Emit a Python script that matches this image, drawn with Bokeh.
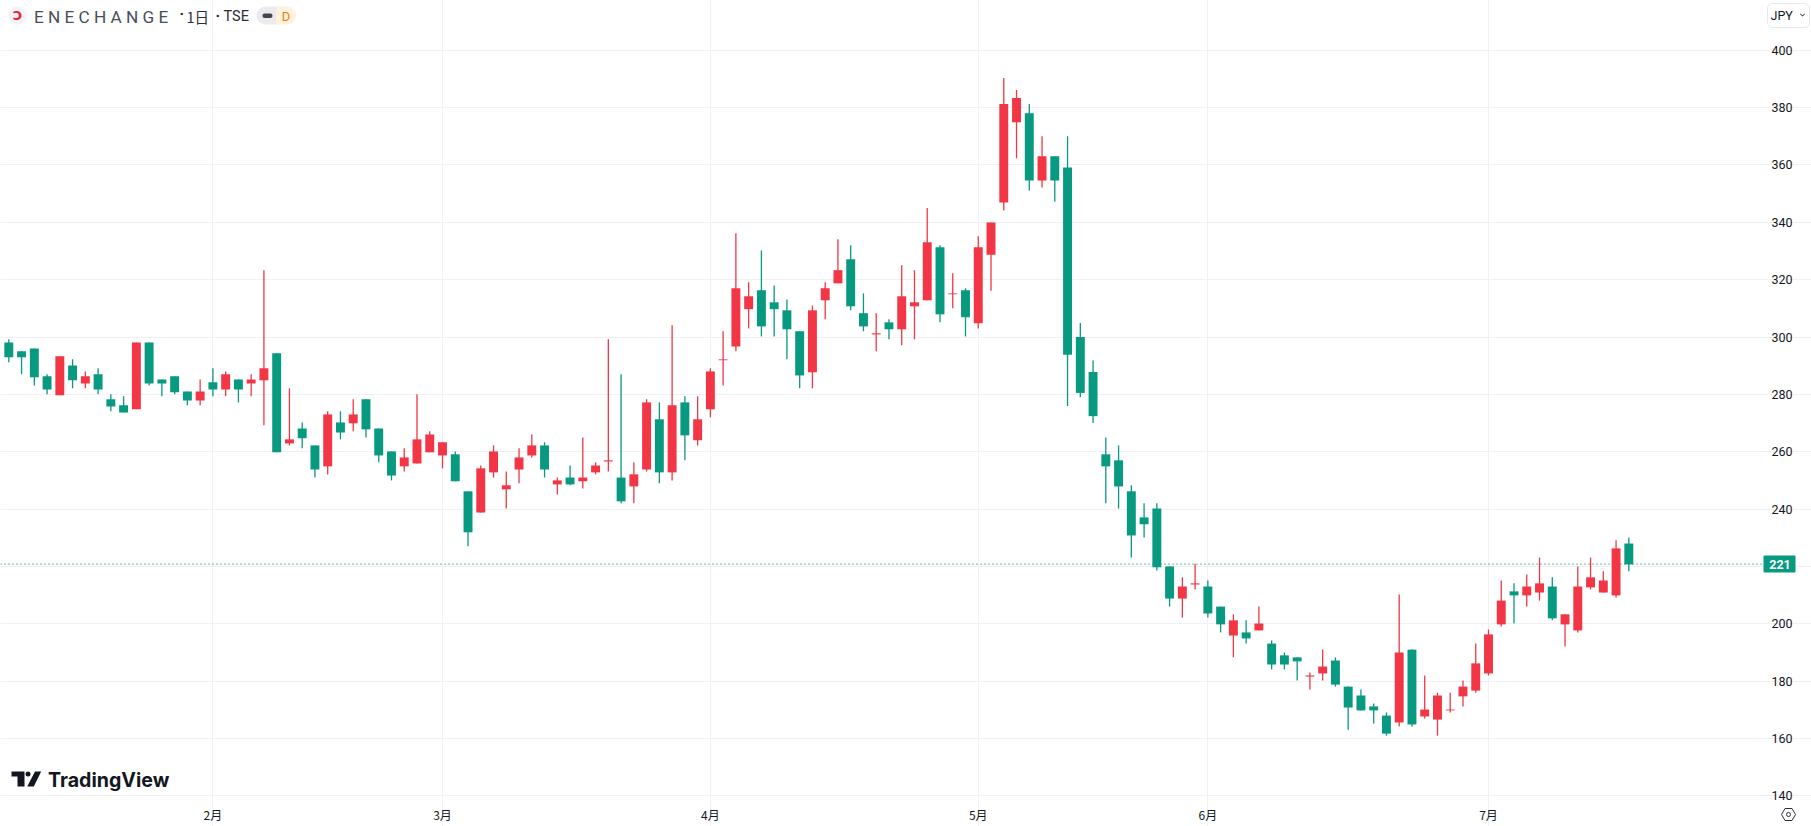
from bokeh.plotting import figure
from bokeh.models import (ColumnDataSource, FixedTicker, Label, BoxAnnotation, PolyAnnotation,
                          LinearAxis, Range1d)
from bokeh.embed import file_html
from bokeh.resources import INLINE

opens = [298.1,295,296,286.3,279.7,290.1,283.8,287,278.3,276.2,274.8,298.1,285.2,286.3,281,277.9,284.2,281.7,285.2,283.8,
         284.9,294.3,262.9,268.1,262.2,254.9,270.2,269.9,278.3,268.1,260.1,254.9,255.9,259.8,258.7,259.1,246.2,238.8,252.8,246.9,
         253.8,258.7,262.2,248.6,251,249.7,252.8,256.6,251,247.9,253.8,271.3,252.8,277.2,264,274.8,291.9,296.7,309.7,316.3,
         312.1,309.3,302,287.7,312.8,318.7,327.1,308.3,300.9,305.1,302.7,310.7,312.8,331.3,314.9,316.3,304.8,328.7,346.9,374.9,
         378,354.6,363,359.1,300,287.8,259.1,257,246.2,237.1,240.2,220,208.8,213.7,213,206,195.9,197,197.7,193.1,
         189,188.3,181.6,182.7,187.2,178.1,175,171.2,168,165.6,191,167.7,166.6,169.8,174.7,176.7,182.7,199.8,211.3,209.9,
         210.9,213,199.8,197.7,212.7,210.9,209.9,228]
highs = [299.2,295,296,287,293.3,292.2,288,289.1,280,279.3,298.1,298.1,285.2,286.3,281,285.2,289.1,288,285.2,287,
         323.3,294.3,282.1,270.2,262.2,274.1,274.1,278.3,278.3,268.1,260.1,261.2,280,267.1,263.3,260.1,246.2,255.2,262.2,253.1,
         261.2,266,263.3,251,255.2,265,256.3,299.2,287,256.3,278.3,277.2,304.1,279.3,279.3,289.1,302,336.2,319.1,330.2,
         318,313.1,302,311,319.1,334.1,332,315.2,308.3,306.2,325,323.3,345,332,322.2,317,335.1,339.9,390.3,386.1,
         381.2,370,363,370,304.9,291.8,265,262.2,248.3,242,242,220,216.2,220.9,215.1,206,203.3,201.2,206,194.2,
         190,188.3,183,191,188.3,178.1,177.1,172.2,169.1,210.2,191,182,176,176,180.2,193.1,198,215.1,214.1,217.2,
         223.1,216.2,203.3,220,223.1,218.3,229.1,230.1]
lows = [291.2,287,283.1,280,279.7,282.1,282.1,280,274.1,273.7,274.8,283.1,279.3,280,276.2,276.2,279.3,279.3,277.2,279.3,
        269.2,259.8,262.2,261.2,251,252.1,264.3,267.1,265,256.3,250,253.1,255.9,259.8,254.2,249.7,227,238.8,251,240.2,
        249,258,251,245.1,248.3,247.2,252.1,253.1,242,242,253.1,249,250,257,262.2,272,283.1,295,303,300.2,
        300.2,292.2,282.1,282.1,306.2,318.7,309.3,302,295,299.2,297.1,299.2,312.8,305.1,310,300.2,303,316.1,344.1,362.3,
        351.1,352.1,347.2,275.9,279,270,242,240.2,223.1,230.1,218.6,206,202.2,212,202.2,197,188.3,193.1,197.7,184.1,
        184.1,180.2,177.1,180.2,178.1,163.1,169.8,165.2,161,164.2,164.2,167,161,169.1,171.2,176,182,199.1,200.1,206,
        208.1,201.2,192.1,197,212,210.9,209.2,218.3]
closes = [292.9,292.9,286,281.7,293.3,284.9,286.3,281.7,275.8,273.7,298.1,283.8,283.8,280.7,277.9,281,281.7,287,281.7,285.2,
          289.1,259.8,264.3,264.7,253.8,273,266.7,273,267.8,258.7,251.7,258,264.3,266,263.3,249.7,231.9,254.2,260.1,248.3,
          258,262.2,253.8,250,248.6,251,255.2,257,242.7,252.1,277.2,252.8,276.2,265.7,271.3,288,292.2,317,314.2,303.7,
          309.7,302.7,286.6,309.3,317,323.3,310.7,303.7,301.3,302.7,314.2,312.1,333,307.9,315.2,306.9,331.3,339.9,381.2,383.3,
          354.6,363,354.6,293.8,280.5,272.4,254.9,247.9,230.8,234.7,219.7,208.8,213,214.1,203.6,199.8,201.2,194.9,200.1,185.8,
          185.8,186.9,182,185.1,178.8,170.8,169.8,169.8,161.7,190,164.9,170.1,175,170.1,178.1,186.2,196.3,208.1,209.9,213,
          214.1,201.9,203.3,213,216.2,215.1,226.3,220.7]

month_positions = [16, 34, 55, 76, 94, 116]
month_labels = ["2月", "3月", "4月", "5月", "6月", "7月"]
price_ticks = list(range(140, 401, 20))
last_price = 220.83
last_label = "221"

UP = "#F23645"
DOWN = "#089981"
GRID = "#f1f1f3"
TEXT = "#131722"
SANS = "Roboto"
CJK = "Noto Sans CJK JP"

idx = list(range(len(opens)))
colors = [UP if c >= o else DOWN for o, c in zip(opens, closes)]
src = ColumnDataSource(dict(x=idx, o=opens, h=highs, l=lows, c=closes,
                            top=[max(a, b) for a, b in zip(opens, closes)],
                            bot=[min(a, b) for a, b in zip(opens, closes)],
                            color=colors))

W, H = 1811, 826      # canvas
PW, PH = 1762, 796    # pane: right and bottom edges of the price/time area
SCALE = 2.868
STEP = 12.756
X0 = -8.3 / STEP
XE = (PW - 8.3) / STEP
YT = 400 + 49.7 / SCALE
YB = 400 - (PH - 49.7) / SCALE

p = figure(width=W, height=H, output_backend="svg", toolbar_location=None, tools="",
           x_range=Range1d(X0, (W - 8.3) / STEP),
           y_range=Range1d(400 - (H - 49.7) / SCALE, YT),
           x_axis_location=None, y_axis_location=None,
           min_border_left=0, min_border_top=0, min_border_right=0, min_border_bottom=0,
           background_fill_color="white", border_fill_color="white", outline_line_color=None)

yax = LinearAxis(ticker=FixedTicker(ticks=price_ticks), fixed_location=XE,
                 major_label_overrides={220: ""})
yax.axis_line_color = None
yax.major_tick_line_color = None
yax.minor_tick_line_color = None
yax.major_tick_out = 0
yax.major_tick_in = 0
yax.major_label_standoff = 9
yax.major_label_text_font = SANS
yax.major_label_text_font_size = "12.5px"
yax.major_label_text_color = TEXT
p.add_layout(yax, "right")

xax = LinearAxis(ticker=FixedTicker(ticks=month_positions), fixed_location=YB,
                 major_label_overrides={k: v for k, v in zip(month_positions, month_labels)})
xax.axis_line_color = None
xax.major_tick_line_color = GRID
xax.minor_tick_line_color = None
xax.major_tick_out = 4
xax.major_tick_in = 0
xax.major_label_standoff = 5
xax.major_label_text_font = CJK
xax.major_label_text_font_size = "12px"
xax.major_label_text_color = TEXT
p.add_layout(xax, "below")

p.xgrid.ticker = FixedTicker(ticks=month_positions)
p.ygrid.ticker = FixedTicker(ticks=price_ticks)
p.xgrid.grid_line_color = GRID
p.ygrid.grid_line_color = GRID
p.xgrid.grid_line_width = 1
p.ygrid.grid_line_width = 1
p.xgrid.bounds = (YB, YT)
p.ygrid.bounds = (X0, XE)

p.segment([X0], [last_price], [XE], [last_price], line_color=DOWN, line_width=1.3, line_dash="1 3")
p.segment("x", "h", "x", "l", source=src, line_color="color", line_width=1.3)
p.vbar("x", width=0.7, top="top", bottom="bot", source=src, fill_color="color", line_color=None)


def box(l, t, r, b, fill, radius=0, line=None, lw=1):
    a = BoxAnnotation(left=l, right=r, top=t, bottom=b, left_units="canvas", right_units="canvas",
                      top_units="canvas", bottom_units="canvas", fill_color=fill, fill_alpha=1,
                      line_color=line, line_alpha=1, line_width=lw, border_radius=radius)
    p.add_layout(a)


def text(x, y, s, size=12, color=TEXT, font=SANS, style="normal", align="left"):
    p.add_layout(Label(x=x, y=y, x_units="canvas", y_units="canvas", text=s, text_font=font,
                       text_font_size=f"{size}px", text_color=color, text_font_style=style,
                       text_align=align, text_baseline="middle"))


def poly(xs, ys, fill, line=None, lw=1):
    p.add_layout(PolyAnnotation(xs=xs, ys=ys, xs_units="canvas", ys_units="canvas", fill_color=fill,
                                fill_alpha=1, line_color=line, line_alpha=1, line_width=lw))


# header
box(8, 6, 26, 24, "#f0f3fa", radius=9)
text(17, 15, "Ↄ", 13, "#f0202a", "DejaVu Sans", "bold", "center")
text(33.5, 16, "E N E C H A N G E", 17.2, "#4a4e5a")
text(179, 13, "·", 15, TEXT, SANS, "bold")
text(186, 16, "1日", 14.5, "#2a2e39", CJK)
text(215, 15, "·", 15, TEXT, SANS, "bold")
text(223, 16, "TSE", 14.5, "#2a2e39")
box(256, 6, 285, 24, "#ebebeb", radius=9)
box(276, 6, 296, 24, "#fff3e0", radius=9)
box(276, 6, 286, 24, "#fff3e0")
box(262, 13, 272, 17.5, "#434651", radius=2)
text(285.5, 15.5, "D", 13, "#f57c00", SANS, "normal", "center")

# currency box
box(1767, 3, 1809, 27, "white", radius=5, line="#e6e8ee")
text(1770, 15, "JPY", 12.5, TEXT)
poly([1799.5, 1802, 1804.5, 1804, 1802, 1800], [13.5, 16, 13.5, 13, 15, 13], TEXT)

# last price tag
yl = 49.7 + (400 - last_price) * SCALE
box(1763, yl - 8.5, 1795, yl + 8.5, DOWN, radius=1)
text(1779.5, yl, last_label, 12.5, "white", SANS, "bold", "center")

# settings hexagon
poly([1781, 1784.5, 1791.5, 1795, 1791.5, 1784.5], [814, 808, 808, 814, 820, 820], "white", "#2a2e39", 1)
box(1786, 812, 1790, 816, "white", radius=2, line="#2a2e39")

# logo
poly([11, 24, 24, 17, 17, 11], [771, 771, 786, 786, 776, 776], "#131722")
box(25, 771, 30, 776, "#131722", radius=3)
poly([34.5, 40.7, 33.3, 26.7], [771, 771, 786, 786], "#131722")
text(47.5, 779, "TradingView", 19.6, "#131722", "Inter", "bold")

open("out.html", "w").write(file_html(p, INLINE))
